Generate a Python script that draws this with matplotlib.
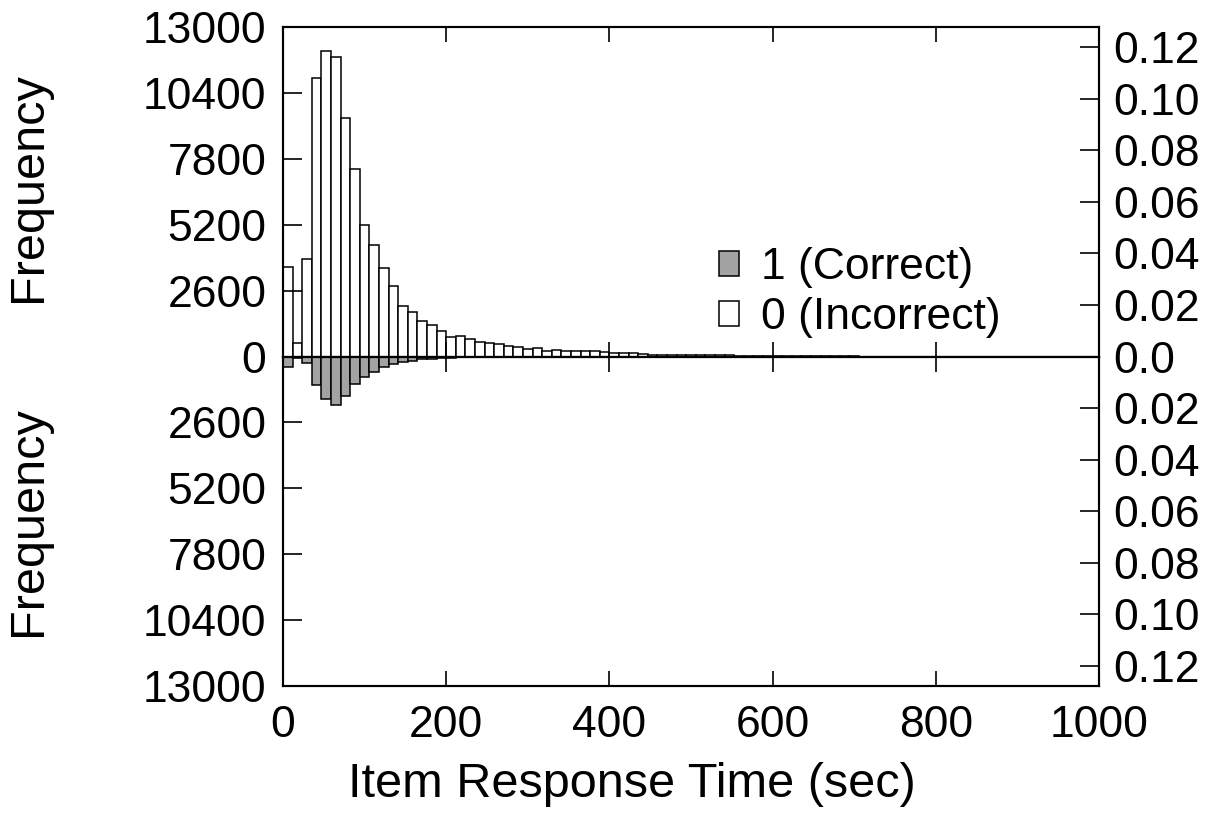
import numpy as np
import matplotlib
matplotlib.use("Agg")
import matplotlib.pyplot as plt

plt.rcParams['font.family'] = ['Liberation Sans', 'DejaVu Sans']

# bin layout: 85 equal bins over 0-1000 sec
n_bins = 85
bin_edges = np.linspace(0, 1000, n_bins + 1)

# incorrect responses (upper panel), frequency per bin
freq_incorrect = [3540, 540, 3850, 11000, 12050, 11830, 9400, 7410, 5190, 4400,
                  3490, 2780, 2005, 1770, 1420, 1243, 1019, 770, 809, 690,
                  585, 520, 480, 426, 363, 284, 323, 217, 268, 205,
                  205, 205, 205, 166, 150, 126, 126, 87, 70, 75,
                  60, 60, 60, 60, 55, 50, 45, 40, 35, 30,
                  25, 25, 20, 20, 15, 15, 15, 10, 10, 10,
                  0, 0, 0, 0, 0, 0, 0, 0, 0, 0,
                  0, 0, 0, 0, 0, 0, 0, 0, 0, 0,
                  0, 0, 0, 0, 0]
# correct responses (lower panel)
freq_correct = [430, 40, 260, 1117, 1690, 1913, 1558, 1085, 797, 623,
                402, 308, 229, 178, 110, 99, 71, 45, 35, 30,
                25, 20, 15, 12, 10, 8, 6, 5, 4, 3,
                3, 2, 2, 2, 1, 1, 1, 1, 1, 1,
                0, 0, 0, 0, 0, 0, 0, 0, 0, 0,
                0, 0, 0, 0, 0, 0, 0, 0, 0, 0,
                0, 0, 0, 0, 0, 0, 0, 0, 0, 0,
                0, 0, 0, 0, 0, 0, 0, 0, 0, 0,
                0, 0, 0, 0, 0]

freq_ticks = [0, 2600, 5200, 7800, 10400, 13000]
prop_ticks = [0.0, 0.02, 0.04, 0.06, 0.08, 0.10, 0.12]
prop_labels = ['0.0', '0.02', '0.04', '0.06', '0.08', '0.10', '0.12']
freq_max = 13000
prop_max = 0.1278

fig = plt.figure(figsize=(12.14, 8.14), dpi=100)
left, right = 0.2331, 0.9053
bottom, top = 0.1572, 0.9668
mid = (bottom + top) / 2
ax_top = fig.add_axes([left, mid, right - left, top - mid])
ax_bot = fig.add_axes([left, bottom, right - left, mid - bottom], sharex=ax_top)

width = bin_edges[1] - bin_edges[0]
ax_top.bar(bin_edges[:-1], freq_incorrect, width=width, align='edge',
           facecolor='white', edgecolor='black', linewidth=1.1,
           label='0 (Incorrect)')
ax_bot.bar(bin_edges[:-1], freq_correct, width=width, align='edge',
           facecolor='#a3a3a3', edgecolor='black', linewidth=1.1,
           label='1 (Correct)')

ax_top.set_xlim(0, 1000)
ax_top.set_ylim(0, freq_max)
ax_bot.set_ylim(freq_max, 0)

fs = 32
for ax in (ax_top, ax_bot):
    for s in ax.spines.values():
        s.set_linewidth(1.5)
    ax.tick_params(axis='y', direction='in', length=13.5, width=1.2,
                   labelsize=fs, pad=12)
    ax.tick_params(axis='x', direction='in', length=11, width=1.2,
                   labelsize=fs, pad=14, top=True)
    ax.set_ylabel('Frequency', fontsize=35)
ax_top.yaxis.set_label_coords(-0.284, 0.515)
ax_bot.yaxis.set_label_coords(-0.284, 0.5)

ax_top.set_yticks(freq_ticks)
ax_bot.set_yticks(freq_ticks[1:])
ax_top.tick_params(axis='x', labelbottom=False)
ax_bot.set_xticks([0, 200, 400, 600, 800, 1000])
ax_bot.set_xlabel('Item Response Time (sec)', fontsize=35, labelpad=8)
ax_bot.xaxis.set_label_coords(0.428, -0.23)

tw_top = ax_top.twinx()
tw_top.set_ylim(0, prop_max)
tw_top.set_yticks(prop_ticks)
tw_top.set_yticklabels(prop_labels)
tw_bot = ax_bot.twinx()
tw_bot.set_ylim(prop_max, 0)
tw_bot.set_yticks(prop_ticks[1:])
tw_bot.set_yticklabels(prop_labels[1:])
for tw in (tw_top, tw_bot):
    tw.tick_params(axis='y', direction='in', length=13.5, width=1.2,
                   labelsize=fs, pad=10)
    for s in tw.spines.values():
        s.set_linewidth(1.5)

h_top, l_top = ax_top.get_legend_handles_labels()
h_bot, l_bot = ax_bot.get_legend_handles_labels()
ax_top.legend(h_bot + h_top, l_bot + l_top, loc='upper left',
              bbox_to_anchor=(0.512, 0.385), frameon=False, fontsize=fs,
              handlelength=0.45, handleheight=0.5, handletextpad=0.5,
              labelspacing=0.2, borderaxespad=0)

fig.savefig('out.png', dpi=100)
